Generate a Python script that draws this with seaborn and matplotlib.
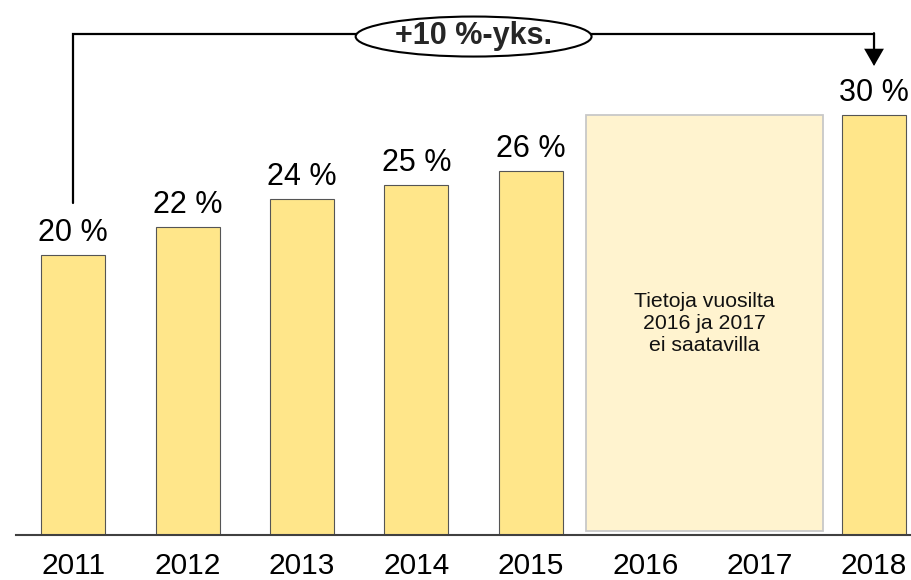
import matplotlib
matplotlib.use("Agg")
import matplotlib.pyplot as plt
from matplotlib.patches import Ellipse, Rectangle
import seaborn as sns

# ---- data ----
years = ["2011", "2012", "2013", "2014", "2015", "2016", "2017", "2018"]
avail_years = ["2011", "2012", "2013", "2014", "2015", "2018"]
avail_values = [20, 22, 24, 25, 26, 30]
missing_years = ["2016", "2017"]
missing_text = "Tietoja vuosilta\n2016 ja 2017\nei saatavilla"
change_text = "+10 %-yks."
value_suffix = " %"

sns.set_style("white")
plt.rcParams["font.family"] = ["Liberation Sans", "DejaVu Sans"]

fig = plt.figure(figsize=(9.12, 5.8), dpi=100)
ax = fig.add_axes([16 / 912, 45 / 580, 896 / 912, 535 / 580])

bar_color = "#FFE68A"
sns.barplot(x=avail_years, y=avail_values, order=years, color=bar_color,
            saturation=1, edgecolor="#555555", linewidth=0.8, width=0.56,
            ax=ax, zorder=2)

ax.set_xlim(-0.5, 7.332)
ax.set_ylim(0, 38.21)

# value labels
for yr, v in zip(avail_years, avail_values):
    i = years.index(yr)
    ax.annotate(f"{v}{value_suffix}", (i, v), xytext=(0, 4.8),
                textcoords="offset points", ha="center", va="bottom",
                fontsize=22, color="black")

# missing-data box
i0 = years.index(missing_years[0])
i1 = years.index(missing_years[-1])
top = max(avail_values)
box = Rectangle((i0 - 0.52, 0.29), (i1 + 0.555) - (i0 - 0.52), top - 0.29,
                facecolor="#FFF3CF", edgecolor="#C8C8C8", linewidth=1.3,
                zorder=1)
ax.add_patch(box)
ax.text((i0 - 0.52 + i1 + 0.555) / 2, 15.07, missing_text, ha="center",
        va="center", fontsize=15.3, color="#111111", linespacing=1.2,
        zorder=3)

# bracket with arrow
first_i = years.index(avail_years[0])
last_i = years.index(avail_years[-1])
y_br = 35.79
ax.plot([first_i, first_i, last_i], [avail_values[0] + 3.7, y_br, y_br],
        color="black", lw=1.6, solid_joinstyle="miter", zorder=3,
        clip_on=False)
ax.annotate("", xy=(last_i, 33.5), xytext=(last_i, y_br + 0.05),
            arrowprops=dict(arrowstyle="-|>,head_length=0.4,head_width=0.23",
                            mutation_scale=25, lw=1.6, color="black",
                            shrinkA=0, shrinkB=0, joinstyle="miter"),
            zorder=3)

cx = (first_i + last_i) / 2
ell = Ellipse((cx, 35.6), 2.062, 40 / 14, facecolor="white",
              edgecolor="black", lw=1.5, zorder=4)
ax.add_patch(ell)
ax.text(cx, 35.05, change_text, ha="center", va="baseline", fontsize=22,
        fontweight="bold", zorder=5)

# axes styling
for s in ["left", "right", "top"]:
    ax.spines[s].set_visible(False)
ax.spines["bottom"].set_color("#404040")
ax.spines["bottom"].set_linewidth(1.5)
ax.spines["bottom"].set_zorder(3)
ax.set_yticks([])
ax.set_xlabel("")
ax.set_ylabel("")
ax.tick_params(axis="x", length=0, pad=12, labelsize=21.5, colors="black")

fig.savefig("out.png", dpi=100)
